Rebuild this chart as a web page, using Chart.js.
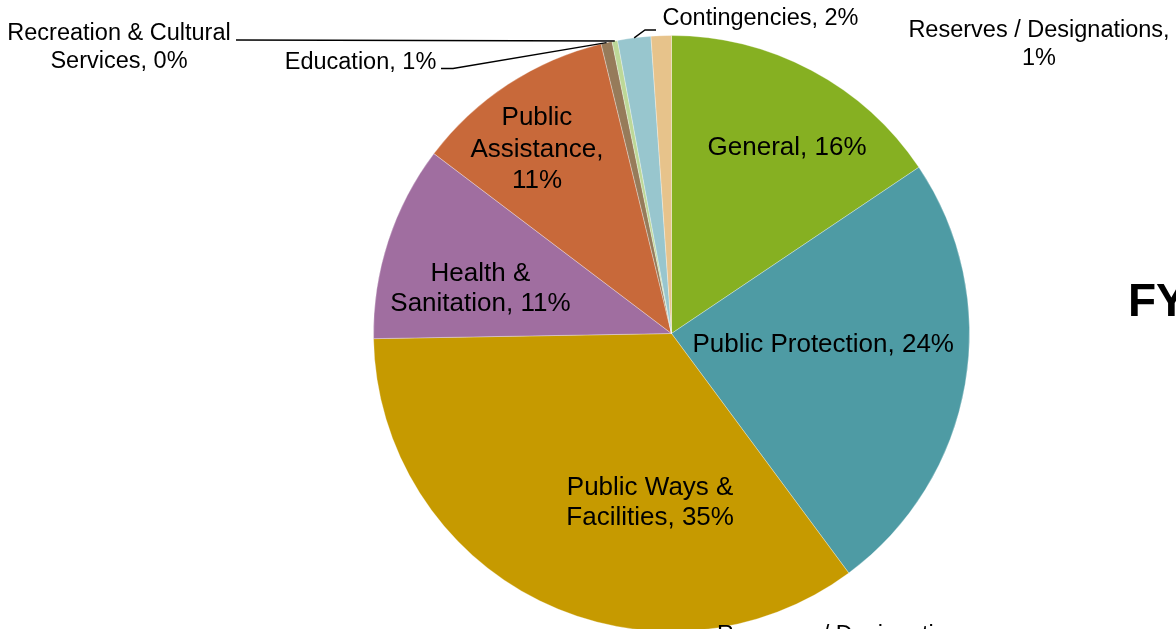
<!DOCTYPE html>
<html>
<head>
<meta charset="utf-8">
<script src="https://cdn.jsdelivr.net/npm/chart.js@4.4.0/dist/chart.umd.min.js"></script>
<style>
  html, body { margin:0; padding:0; background:#fff; overflow:hidden; }
  #wrap { position:relative; width:1176px; height:700px; }
</style>
</head>
<body>
<div id="wrap"><canvas id="budgetPie" width="1176" height="700"></canvas></div>
<script>
// ===== Budget shares by function =====
const categories = [
  "General", "Public Protection", "Public Ways & Facilities", "Health & Sanitation",
  "Public Assistance", "Education", "Recreation & Cultural Services", "Contingencies",
  "Reserves / Designations"
];
const shares = [15.6, 24.3, 34.9, 10.6, 10.9, 0.6, 0.3, 1.8, 1.1];
const sliceColors = [
  "#86b022", "#4e9ba4", "#c69a00", "#a06ea0", "#c8693a",
  "#967b5a", "#bdd898", "#98c6ce", "#e7c38b"
];
// {p} is replaced by the rounded percent, \n breaks the line
const labelFormats = [
  "General, {p}", "Public Protection, {p}", "Public Ways &\nFacilities, {p}",
  "Health &\nSanitation, {p}", "Public\nAssistance,\n{p}", "Education, {p}",
  "Recreation & Cultural\nServices, {p}", "Contingencies, {p}", "Reserves / Designations,\n{p}"
];

// inside labels: a = degrees clockwise from 12 o'clock, r = fraction of radius
// outside labels: text centre + knee points of the leader line
const labelSpots = [
  {a:31.6, r:0.74},
  {a:93.6, r:0.51},
  {a:187.3, r:0.565},
  {a:283.7, r:0.66},
  {a:324.1, r:0.77},
  {x:360.5, y:61, leader:[[441,68.5],[453,68.5]]},
  {x:119, y:32, leader:[[236,40]]},
  {x:760.5, y:17, leader:[[656,30],[645,30]]},
  {x:1039, y:29}
];

const total = shares.reduce((a,b)=>a+b,0);
const FONT = '"Liberation Sans", Arial, sans-serif';

function drawLines(ctx, lines, cx, firstY, lineH, size){
  ctx.font = size + "px " + FONT;
  ctx.textAlign = "center";
  ctx.textBaseline = "alphabetic";
  lines.forEach((t,k)=>{
    ctx.fillText(t, cx, firstY + k*lineH + size*0.358);
  });
}

// ===== Data labels & leader lines =====
const pieLabels = {
  id: "pieLabels",
  afterDatasetsDraw(chart){
    const ctx = chart.ctx;
    const arcs = chart.getDatasetMeta(0).data;
    ctx.save();
    ctx.fillStyle = "#000";
    arcs.forEach((arc,i)=>{
      const {x, y, startAngle, endAngle, outerRadius} =
        arc.getProps(["x","y","startAngle","endAngle","outerRadius"], true);
      const pct = Math.round(shares[i]/total*100) + "%";
      const lines = labelFormats[i].replace("{p}", pct).split("\n");
      const spot = labelSpots[i];
      if(spot.a !== undefined){
        const th = spot.a*Math.PI/180;
        const lx = x + Math.sin(th)*outerRadius*spot.r;
        const ly = y - Math.cos(th)*outerRadius*spot.r;
        const lh = lines.length > 2 ? 31.5 : 30;
        drawLines(ctx, lines, lx, ly - (lines.length-1)*lh/2, lh, 26);
      } else {
        if(spot.leader){
          const mid = (startAngle+endAngle)/2;
          ctx.beginPath();
          ctx.moveTo(spot.leader[0][0], spot.leader[0][1]);
          spot.leader.slice(1).forEach(p=>ctx.lineTo(p[0], p[1]));
          ctx.lineTo(x + Math.cos(mid)*outerRadius, y + Math.sin(mid)*outerRadius);
          ctx.strokeStyle = "#000";
          ctx.lineWidth = 1.4;
          ctx.stroke();
        }
        drawLines(ctx, lines, spot.x, spot.y, 28, 23.5);
      }
    });

    // title and the next chart's label sitting at the page edges
    ctx.font = "bold 46px " + FONT;
    ctx.textAlign = "left";
    ctx.fillText("FY", 1128, 299.5 + 46*0.358);
    ctx.font = "23.5px " + FONT;
    ctx.fillText("Reserves / Designations", 717, 633.5 + 23.5*0.358);
    ctx.restore();
  }
};

new Chart(document.getElementById("budgetPie"), {
  type: "pie",
  data: {
    labels: categories,
    datasets: [{
      data: shares,
      backgroundColor: sliceColors,
      borderColor: "rgba(255,255,255,0.3)",
      borderWidth: 1,
      hoverOffset: 0
    }]
  },
  options: {
    responsive: false,
    animation: false,
    events: [],
    layout: { padding: { left: 373, right: 206, top: 35, bottom: 68 } },
    plugins: { legend: { display: false }, tooltip: { enabled: false } }
  },
  plugins: [pieLabels]
});
</script>
</body>
</html>
